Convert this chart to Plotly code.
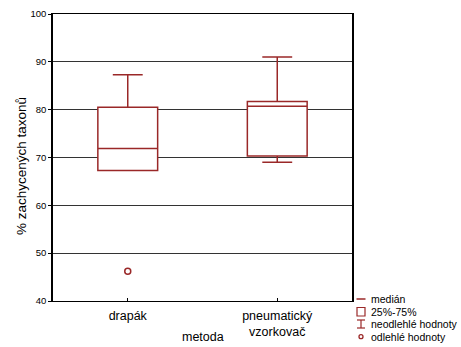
import plotly.graph_objects as go

categories = ["drapák", "pneumatický<br>vzorkovač"]
q1 = [67.3, 70.3]
median = [71.9, 80.7]
q3 = [80.5, 81.7]
lower = [67.3, 69.0]
upper = [87.3, 91.0]
outlier_cat = [0]
outlier_val = [46.2]
legend_labels = ["medián", "25%-75%", "neodlehlé hodnoty", "odlehlé hodnoty"]
x_title = "metoda"
y_title = "% zachycených taxonů"

RED = "#9a2828"
FONT = "Liberation Sans, Arial, sans-serif"

W, H = 461, 347
L, R, T, B = 53, 352, 14, 301

fig = go.Figure()
for i in range(len(categories)):
    fig.add_trace(go.Box(
        x=[i], q1=[q1[i]], median=[median[i]], q3=[q3[i]],
        lowerfence=[lower[i]], upperfence=[upper[i]],
        width=0.4, whiskerwidth=0.5, boxpoints=False,
        fillcolor="white", line=dict(color=RED, width=1.5),
        showlegend=False, hoverinfo="skip"))

fig.add_trace(go.Scatter(
    x=outlier_cat, y=outlier_val, mode="markers",
    marker=dict(symbol="circle-open", size=6, color=RED, line=dict(width=1.5)),
    showlegend=False, hoverinfo="skip"))

def px(x):
    return (x - L) / (R - L)

def py(y):
    return (B - y) / (B - T)

shapes = []
shapes.append(dict(type="line", xref="paper", yref="paper",
                   x0=px(356.5), x1=px(365.5), y0=py(299), y1=py(299),
                   line=dict(color=RED, width=1.5)))
shapes.append(dict(type="rect", xref="paper", yref="paper",
                   x0=px(357), x1=px(365), y0=py(316), y1=py(307.5),
                   line=dict(color=RED, width=1.2)))
shapes.append(dict(type="line", xref="paper", yref="paper",
                   x0=px(361), x1=px(361), y0=py(320), y1=py(328),
                   line=dict(color=RED, width=1.2)))
for yy in (320, 328):
    shapes.append(dict(type="line", xref="paper", yref="paper",
                       x0=px(357), x1=px(365), y0=py(yy), y1=py(yy),
                       line=dict(color=RED, width=1.2)))
shapes.append(dict(type="circle", xref="paper", yref="paper",
                   x0=px(359), x1=px(363), y0=py(338.7), y1=py(334.7),
                   line=dict(color=RED, width=1.3)))

annotations = []
for k, lab in enumerate(legend_labels):
    annotations.append(dict(text=lab, xref="paper", yref="paper",
                            x=px(368.5), y=py(299 + 12.5 * k),
                            xanchor="left", yanchor="middle", showarrow=False,
                            font=dict(size=10.5, color="black", family=FONT)))
annotations.append(dict(text=x_title, xref="paper", yref="paper",
                        x=px(203), y=py(337), xanchor="center", yanchor="middle",
                        showarrow=False, font=dict(size=12.5, color="black", family=FONT)))
annotations.append(dict(text=y_title, xref="paper", yref="paper",
                        x=px(21), y=py(166), xanchor="center", yanchor="middle",
                        textangle=-90, showarrow=False,
                        font=dict(size=13.5, color="black", family=FONT)))

fig.update_layout(
    width=W, height=H,
    margin=dict(l=L, r=W - R, t=T, b=H - B, autoexpand=False),
    paper_bgcolor="white", plot_bgcolor="white",
    font=dict(family=FONT, color="black"),
    shapes=shapes, annotations=annotations,
    xaxis=dict(range=[-0.5, 1.5], tickvals=list(range(len(categories))),
               ticktext=categories, showgrid=False, zeroline=False,
               showline=True, linecolor="black", linewidth=1, mirror=True,
               ticks="inside", ticklen=3, tickcolor="black",
               tickfont=dict(size=12.5), automargin=False, ticklabelstandoff=3),
    yaxis=dict(range=[40, 100], dtick=10, showgrid=True, gridcolor="#333333",
               gridwidth=1.2, zeroline=False, showline=True, linecolor="black",
               linewidth=1.5, mirror=True, ticks="outside", ticklen=3,
               tickcolor="black", tickfont=dict(size=9.5), automargin=False),
)

fig.write_html("out.html", config={"displayModeBar": False},
               post_script="document.body.style.margin='0';document.body.style.overflow='hidden';")
